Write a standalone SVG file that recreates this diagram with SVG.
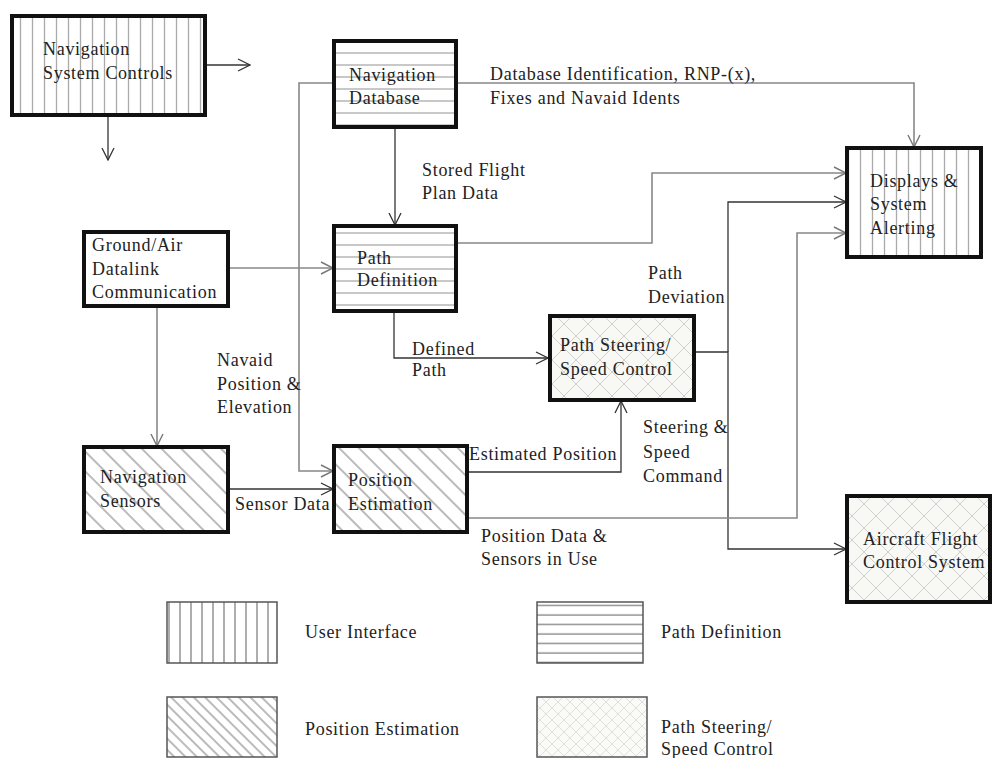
<svg xmlns="http://www.w3.org/2000/svg" width="993" height="758" viewBox="0 0 993 758">
<style>
text{font-family:"Liberation Serif","Times New Roman",serif;font-size:18px;fill:#222;letter-spacing:0.7px}
.node{stroke:#111;stroke-width:4}
.leg{stroke:#555;stroke-width:1.5}
.c{fill:none;stroke:#333;stroke-width:1.3}
.g{fill:none;stroke:#888;stroke-width:1.6}
</style>
<defs>
<pattern id="vs" patternUnits="userSpaceOnUse" width="12" height="10"><rect width="12" height="10" fill="#fff"/><line x1="8.5" y1="0" x2="8.5" y2="10" stroke="#aaa" stroke-width="1.3"/></pattern>
<pattern id="vsL" patternUnits="userSpaceOnUse" width="11" height="10"><rect width="11" height="10" fill="#fff"/><line x1="4" y1="0" x2="4" y2="10" stroke="#777" stroke-width="1.2"/></pattern>
<pattern id="hs" patternUnits="userSpaceOnUse" width="10" height="12"><rect width="10" height="12" fill="#fff"/><line x1="0" y1="5" x2="10" y2="5" stroke="#aaa" stroke-width="1.3"/></pattern>
<pattern id="hsL" patternUnits="userSpaceOnUse" width="10" height="9.5" y="3"><rect width="10" height="9.5" fill="#fff"/><line x1="0" y1="4" x2="10" y2="4" stroke="#777" stroke-width="1.2"/></pattern>
<pattern id="dg" patternUnits="userSpaceOnUse" width="14" height="10" patternTransform="rotate(-45)"><rect width="14" height="10" fill="#fff"/><line x1="7" y1="0" x2="7" y2="10" stroke="#777" stroke-width="1"/></pattern>
<pattern id="dgL" patternUnits="userSpaceOnUse" width="8" height="10" patternTransform="rotate(-45)"><rect width="8" height="10" fill="#fff"/><line x1="4" y1="0" x2="4" y2="10" stroke="#777" stroke-width="1"/></pattern>
<pattern id="xh" patternUnits="userSpaceOnUse" width="24" height="24"><rect width="24" height="24" fill="#f8f8f4"/><path d="M0,0 L24,24 M24,0 L0,24" stroke="#cfcfcf" stroke-width="1"/></pattern>
<pattern id="xhL" patternUnits="userSpaceOnUse" width="12" height="12"><rect width="12" height="12" fill="#fafaf7"/><path d="M0,0 L12,12 M12,0 L0,12" stroke="#d8d8d8" stroke-width="0.8"/></pattern>
<marker id="a" viewBox="0 0 14 14" refX="13" refY="7" markerWidth="14" markerHeight="14" markerUnits="userSpaceOnUse" orient="auto"><path d="M1,1 L13,7 L1,13" fill="none" stroke="#333" stroke-width="1.3"/></marker>
<marker id="ag" viewBox="0 0 14 14" refX="13" refY="7" markerWidth="14" markerHeight="14" markerUnits="userSpaceOnUse" orient="auto"><path d="M1,1 L13,7 L1,13" fill="none" stroke="#777" stroke-width="1.4"/></marker>
</defs>

<g id="connectors">
<path class="c" d="M205,65 H250" marker-end="url(#a)"/>
<path class="c" d="M108,115 V160" marker-end="url(#a)"/>
<path class="g" d="M334,83 H299 V471 H333" marker-end="url(#ag)"/>
<path class="g" d="M456,83 H914 V147" marker-end="url(#ag)"/>
<path class="c" d="M395,127 V225" marker-end="url(#a)"/>
<path class="g" d="M228,268 H333" marker-end="url(#ag)"/>
<path class="g" d="M157,306 V446" marker-end="url(#ag)"/>
<path class="c" d="M228,489 H333" marker-end="url(#a)"/>
<path class="c" d="M394,311 V358 H548" marker-end="url(#a)"/>
<path class="g" d="M456,243 H652 V173 H846" marker-end="url(#ag)"/>
<path class="c" d="M467,472 H621 V401" marker-end="url(#a)"/>
<path class="c" d="M694,352 H728 V549 H846" marker-end="url(#a)"/>
<path class="c" d="M728,352 V202 H846" marker-end="url(#a)"/>
<path class="g" d="M467,518 H797 V233 H846" marker-end="url(#ag)"/>
</g>

<g id="nav-system-controls">
<rect class="node" x="12" y="16" width="193" height="99" fill="url(#vs)"/>
<text x="43" y="55">Navigation</text>
<text x="43" y="79">System Controls</text>
</g>
<g id="nav-database">
<rect class="node" x="334" y="41" width="122" height="86" fill="url(#hs)"/>
<text x="349" y="81">Navigation</text>
<text x="349" y="104">Database</text>
</g>
<g id="ground-air">
<rect class="node" x="84" y="232" width="144" height="74" fill="#fff"/>
<text x="92" y="251">Ground/Air</text>
<text x="92" y="275">Datalink</text>
<text x="92" y="298">Communication</text>
</g>
<g id="path-definition">
<rect class="node" x="334" y="226" width="122" height="85" fill="url(#hs)"/>
<text x="357" y="264">Path</text>
<text x="357" y="286">Definition</text>
</g>
<g id="displays">
<rect class="node" x="847" y="148" width="134" height="109" fill="url(#vs)"/>
<text x="870" y="187">Displays &amp;</text>
<text x="870" y="210">System</text>
<text x="870" y="234">Alerting</text>
</g>
<g id="path-steering">
<rect class="node" x="550" y="316" width="144" height="84" fill="url(#xh)"/>
<text x="560" y="351">Path Steering/</text>
<text x="560" y="375">Speed Control</text>
</g>
<g id="nav-sensors">
<rect class="node" x="84" y="447" width="144" height="85" fill="url(#dg)"/>
<text x="100" y="483">Navigation</text>
<text x="100" y="507">Sensors</text>
</g>
<g id="position-estimation">
<rect class="node" x="334" y="446" width="133" height="86" fill="url(#dg)"/>
<text x="348" y="486">Position</text>
<text x="348" y="510">Estimation</text>
</g>
<g id="aircraft-fcs">
<rect class="node" x="847" y="496" width="143" height="106" fill="url(#xh)"/>
<text x="863" y="545">Aircraft Flight</text>
<text x="863" y="568">Control System</text>
</g>

<g id="labels">
<text x="490" y="80">Database Identification, RNP-(x),</text>
<text x="490" y="104">Fixes and Navaid Idents</text>
<text x="422" y="176">Stored Flight</text>
<text x="422" y="199">Plan Data</text>
<text x="648" y="279">Path</text>
<text x="648" y="303">Deviation</text>
<text x="217" y="366">Navaid</text>
<text x="217" y="390">Position &amp;</text>
<text x="217" y="413">Elevation</text>
<text x="412" y="355">Defined</text>
<text x="412" y="376">Path</text>
<text x="469" y="460">Estimated Position</text>
<text x="643" y="433">Steering &amp;</text>
<text x="643" y="458">Speed</text>
<text x="643" y="482">Command</text>
<text x="235" y="510">Sensor Data</text>
<text x="481" y="542">Position Data &amp;</text>
<text x="481" y="565">Sensors in Use</text>
</g>

<g id="legend">
<rect class="leg" x="167" y="602" width="110" height="61" fill="url(#vsL)"/>
<text x="305" y="638">User Interface</text>
<rect class="leg" x="537" y="602" width="106" height="61" fill="url(#hsL)"/>
<text x="661" y="638">Path Definition</text>
<rect class="leg" x="167" y="697" width="110" height="60" fill="url(#dgL)"/>
<text x="305" y="735">Position Estimation</text>
<rect class="leg" x="537" y="697" width="110" height="60" fill="url(#xhL)"/>
<text x="661" y="733">Path Steering/</text>
<text x="661" y="755">Speed Control</text>
</g>
</svg>
